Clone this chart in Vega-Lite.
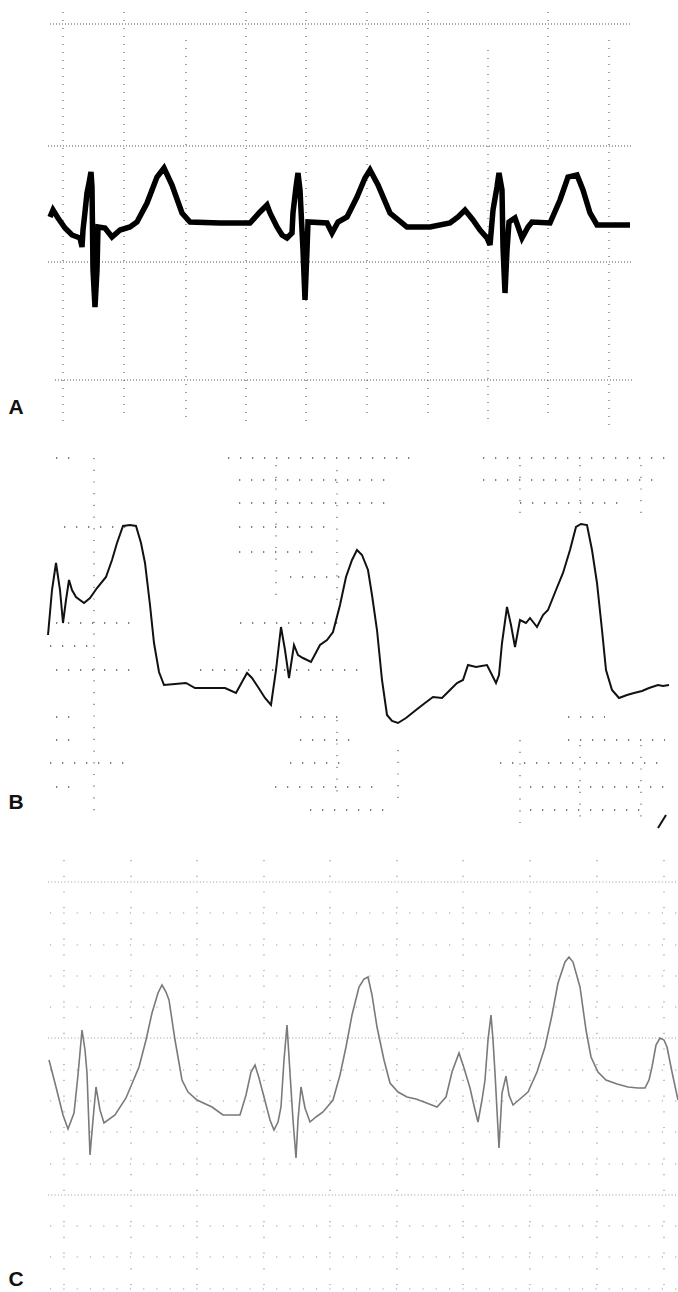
{
  "$schema": "https://vega.github.io/schema/vega-lite/v6.json",
  "padding": 0,
  "spacing": 0,
  "background": "white",
  "config": {"view": {"stroke": null}},
  "datasets": {
    "traceA": [
      {"t":50,"y":217},{"t":53,"y":210},{"t":58,"y":218},{"t":65,"y":228},{"t":72,"y":235},{"t":80,"y":238},{"t":82,"y":247},{"t":83,"y":230},{"t":85,"y":212},{"t":87,"y":193},{"t":89,"y":183},{"t":91,"y":172},{"t":92,"y":187},{"t":93,"y":270},{"t":95,"y":307},{"t":97,"y":270},{"t":98,"y":227},{"t":105,"y":228},{"t":112,"y":237},{"t":120,"y":230},{"t":130,"y":227},{"t":137,"y":222},{"t":147,"y":203},{"t":157,"y":177},{"t":164,"y":168},{"t":172,"y":185},{"t":182,"y":213},{"t":190,"y":222},{"t":220,"y":223},{"t":250,"y":223},{"t":260,"y":212},{"t":267,"y":205},{"t":270,"y":213},{"t":277,"y":227},{"t":282,"y":235},{"t":287,"y":238},{"t":292,"y":233},{"t":293,"y":213},{"t":296,"y":187},{"t":298,"y":173},{"t":300,"y":190},{"t":303,"y":250},{"t":305,"y":300},{"t":307,"y":250},{"t":308,"y":222},{"t":327,"y":223},{"t":332,"y":233},{"t":338,"y":222},{"t":347,"y":217},{"t":357,"y":197},{"t":365,"y":178},{"t":370,"y":170},{"t":378,"y":185},{"t":390,"y":213},{"t":407,"y":227},{"t":430,"y":227},{"t":450,"y":223},{"t":458,"y":217},{"t":465,"y":210},{"t":473,"y":220},{"t":480,"y":230},{"t":487,"y":238},{"t":490,"y":245},{"t":493,"y":210},{"t":497,"y":187},{"t":499,"y":173},{"t":502,"y":190},{"t":503,"y":247},{"t":505,"y":293},{"t":507,"y":250},{"t":509,"y":222},{"t":515,"y":218},{"t":522,"y":238},{"t":528,"y":227},{"t":532,"y":222},{"t":550,"y":223},{"t":560,"y":200},{"t":568,"y":177},{"t":577,"y":175},{"t":583,"y":190},{"t":590,"y":213},{"t":597,"y":225},{"t":630,"y":225}
    ],
    "traceB": [
      {"t":48,"y":635},{"t":52,"y":590},{"t":56,"y":563},{"t":60,"y":590},{"t":63,"y":623},{"t":66,"y":600},{"t":69,"y":580},{"t":72,"y":590},{"t":76,"y":597},{"t":84,"y":603},{"t":90,"y":598},{"t":97,"y":588},{"t":106,"y":577},{"t":112,"y":560},{"t":117,"y":543},{"t":123,"y":526},{"t":130,"y":525},{"t":136,"y":526},{"t":141,"y":543},{"t":145,"y":563},{"t":150,"y":605},{"t":154,"y":643},{"t":159,"y":672},{"t":164,"y":685},{"t":175,"y":684},{"t":186,"y":683},{"t":195,"y":688},{"t":210,"y":688},{"t":225,"y":688},{"t":236,"y":693},{"t":242,"y":682},{"t":247,"y":673},{"t":252,"y":678},{"t":258,"y":687},{"t":265,"y":698},{"t":271,"y":705},{"t":276,"y":670},{"t":281,"y":627},{"t":285,"y":650},{"t":289,"y":678},{"t":294,"y":645},{"t":298,"y":655},{"t":303,"y":658},{"t":311,"y":662},{"t":320,"y":645},{"t":327,"y":640},{"t":333,"y":632},{"t":340,"y":605},{"t":346,"y":577},{"t":352,"y":560},{"t":357,"y":550},{"t":362,"y":555},{"t":368,"y":570},{"t":372,"y":595},{"t":377,"y":630},{"t":382,"y":680},{"t":387,"y":715},{"t":392,"y":721},{"t":398,"y":723},{"t":406,"y":718},{"t":416,"y":710},{"t":425,"y":703},{"t":433,"y":697},{"t":442,"y":698},{"t":450,"y":690},{"t":457,"y":683},{"t":463,"y":680},{"t":468,"y":665},{"t":476,"y":667},{"t":487,"y":665},{"t":492,"y":675},{"t":496,"y":683},{"t":499,"y":675},{"t":502,"y":643},{"t":507,"y":607},{"t":511,"y":625},{"t":515,"y":647},{"t":520,"y":620},{"t":526,"y":623},{"t":530,"y":618},{"t":537,"y":627},{"t":543,"y":615},{"t":548,"y":610},{"t":556,"y":590},{"t":563,"y":573},{"t":570,"y":550},{"t":576,"y":527},{"t":581,"y":524},{"t":587,"y":525},{"t":592,"y":550},{"t":597,"y":583},{"t":602,"y":630},{"t":606,"y":670},{"t":612,"y":690},{"t":619,"y":698},{"t":627,"y":695},{"t":634,"y":693},{"t":642,"y":691},{"t":649,"y":688},{"t":658,"y":685},{"t":663,"y":686},{"t":669,"y":685}
    ],
    "traceC": [
      {"t":49,"y":1060},{"t":56,"y":1087},{"t":63,"y":1115},{"t":68,"y":1129},{"t":74,"y":1113},{"t":78,"y":1075},{"t":82,"y":1030},{"t":85,"y":1050},{"t":87,"y":1073},{"t":90,"y":1155},{"t":93,"y":1120},{"t":96,"y":1087},{"t":100,"y":1110},{"t":104,"y":1123},{"t":115,"y":1115},{"t":126,"y":1098},{"t":139,"y":1067},{"t":146,"y":1040},{"t":152,"y":1013},{"t":158,"y":993},{"t":162,"y":985},{"t":166,"y":992},{"t":169,"y":1000},{"t":175,"y":1040},{"t":182,"y":1080},{"t":188,"y":1092},{"t":197,"y":1100},{"t":212,"y":1107},{"t":223,"y":1115},{"t":240,"y":1115},{"t":246,"y":1095},{"t":251,"y":1072},{"t":255,"y":1065},{"t":259,"y":1078},{"t":264,"y":1097},{"t":270,"y":1120},{"t":274,"y":1130},{"t":278,"y":1122},{"t":281,"y":1107},{"t":284,"y":1060},{"t":287,"y":1025},{"t":290,"y":1073},{"t":293,"y":1120},{"t":296,"y":1158},{"t":298,"y":1120},{"t":301,"y":1087},{"t":305,"y":1108},{"t":310,"y":1122},{"t":316,"y":1117},{"t":323,"y":1112},{"t":333,"y":1100},{"t":340,"y":1075},{"t":346,"y":1047},{"t":352,"y":1015},{"t":359,"y":987},{"t":364,"y":979},{"t":368,"y":977},{"t":372,"y":995},{"t":377,"y":1027},{"t":384,"y":1060},{"t":390,"y":1083},{"t":398,"y":1092},{"t":407,"y":1097},{"t":416,"y":1099},{"t":424,"y":1102},{"t":437,"y":1107},{"t":446,"y":1097},{"t":452,"y":1072},{"t":459,"y":1053},{"t":464,"y":1068},{"t":470,"y":1088},{"t":475,"y":1110},{"t":478,"y":1122},{"t":482,"y":1100},{"t":485,"y":1080},{"t":488,"y":1040},{"t":491,"y":1015},{"t":493,"y":1040},{"t":495,"y":1073},{"t":499,"y":1148},{"t":502,"y":1093},{"t":506,"y":1076},{"t":509,"y":1095},{"t":513,"y":1105},{"t":520,"y":1099},{"t":528,"y":1092},{"t":537,"y":1072},{"t":545,"y":1047},{"t":552,"y":1015},{"t":558,"y":983},{"t":565,"y":962},{"t":569,"y":957},{"t":573,"y":962},{"t":580,"y":987},{"t":586,"y":1030},{"t":591,"y":1057},{"t":598,"y":1072},{"t":606,"y":1080},{"t":617,"y":1084},{"t":628,"y":1087},{"t":638,"y":1088},{"t":645,"y":1088},{"t":649,"y":1080},{"t":652,"y":1067},{"t":656,"y":1045},{"t":660,"y":1038},{"t":664,"y":1040},{"t":667,"y":1047},{"t":672,"y":1072},{"t":678,"y":1100}
    ],
    "hA": [
      {"x1":50,"x2":632,"y":24},{"x1":48,"x2":632,"y":146},{"x1":48,"x2":632,"y":262},{"x1":55,"x2":632,"y":380}
    ],
    "vA": [
      {"x":63,"y1":12,"y2":425},{"x":124,"y1":12,"y2":420},{"x":186,"y1":40,"y2":420},{"x":246,"y1":12,"y2":425},{"x":306,"y1":12,"y2":425},{"x":367,"y1":12,"y2":420},{"x":428,"y1":12,"y2":420},{"x":488,"y1":50,"y2":425},{"x":548,"y1":12,"y2":420},{"x":609,"y1":40,"y2":425}
    ],
    "hB": [
      {"x1":56,"x2":76,"y":458},{"x1":228,"x2":410,"y":458},{"x1":483,"x2":665,"y":458},
      {"x1":239,"x2":388,"y":480},{"x1":483,"x2":655,"y":480},
      {"x1":239,"x2":388,"y":503},{"x1":520,"x2":620,"y":503},
      {"x1":64,"x2":130,"y":527},{"x1":239,"x2":335,"y":527},
      {"x1":239,"x2":315,"y":552},
      {"x1":290,"x2":340,"y":577},
      {"x1":56,"x2":130,"y":623},{"x1":240,"x2":340,"y":623},
      {"x1":50,"x2":90,"y":646},
      {"x1":56,"x2":130,"y":670},{"x1":200,"x2":360,"y":670},
      {"x1":56,"x2":70,"y":717},{"x1":300,"x2":340,"y":717},{"x1":568,"x2":605,"y":717},
      {"x1":56,"x2":70,"y":740},{"x1":300,"x2":360,"y":740},{"x1":568,"x2":665,"y":740},
      {"x1":50,"x2":125,"y":763},{"x1":290,"x2":350,"y":763},{"x1":500,"x2":665,"y":763},
      {"x1":56,"x2":70,"y":787},{"x1":275,"x2":375,"y":787},{"x1":530,"x2":665,"y":787},
      {"x1":310,"x2":385,"y":810},{"x1":530,"x2":640,"y":810}
    ],
    "vB": [
      {"x":94,"y1":458,"y2":815},{"x":276,"y1":465,"y2":600},{"x":337,"y1":470,"y2":600},{"x":337,"y1":720,"y2":800},{"x":398,"y1":750,"y2":800},{"x":520,"y1":465,"y2":520},{"x":520,"y1":740,"y2":830},{"x":580,"y1":465,"y2":520},{"x":580,"y1":745,"y2":820},{"x":641,"y1":465,"y2":520},{"x":641,"y1":745,"y2":820}
    ],
    "slashB": [
      {"x":658,"y":828,"x2":666,"y2":815}
    ],
    "hCmaj": [
      {"y":882},{"y":1038},{"y":1195}
    ],
    "hCmin": [
      {"y":913},{"y":945},{"y":976},{"y":1007},{"y":1070},{"y":1101},{"y":1132},{"y":1164},{"y":1226},{"y":1257},{"y":1289}
    ],
    "vC": [
      {"x":64},{"x":131},{"x":197},{"x":264},{"x":330},{"x":397},{"x":463},{"x":530},{"x":597},{"x":664}
    ],
    "labels": [
      {"panel":"A","t":16,"y":408},{"panel":"B","t":16,"y":803},{"panel":"C","t":16,"y":1280}
    ]
  },
  "vconcat": [
    {
      "width": 678,
      "height": 430,
      "layer": [
        {
          "data": {"name": "hA"},
          "mark": {"type": "rule", "color": "#555", "strokeWidth": 1.2, "strokeDash": [1, 2]},
          "encoding": {
            "x": {"field": "x1", "type": "quantitative", "scale": {"domain": [0, 678], "nice": false, "zero": false}, "axis": null},
            "x2": {"field": "x2"},
            "y": {"field": "y", "type": "quantitative", "scale": {"domain": [0, 430], "reverse": true, "nice": false, "zero": false}, "axis": null}
          }
        },
        {
          "data": {"name": "vA"},
          "mark": {"type": "rule", "color": "#666", "strokeWidth": 1.2, "strokeDash": [1, 7]},
          "encoding": {
            "x": {"field": "x", "type": "quantitative", "axis": null},
            "y": {"field": "y1", "type": "quantitative", "axis": null},
            "y2": {"field": "y2"}
          }
        },
        {
          "data": {"name": "traceA"},
          "mark": {"type": "line", "color": "#000", "strokeWidth": 5.5, "strokeJoin": "miter", "interpolate": "linear"},
          "encoding": {
            "x": {"field": "t", "type": "quantitative", "axis": null},
            "y": {"field": "y", "type": "quantitative", "axis": null}
          }
        },
        {
          "data": {"name": "labels"},
          "transform": [{"filter": "datum.panel == 'A'"}],
          "mark": {"type": "text", "font": "Liberation Sans", "fontWeight": "bold", "fontSize": 21, "align": "center", "baseline": "middle", "color": "#111"},
          "encoding": {
            "x": {"field": "t", "type": "quantitative", "axis": null},
            "y": {"field": "y", "type": "quantitative", "axis": null},
            "text": {"field": "panel"}
          }
        }
      ]
    },
    {
      "width": 678,
      "height": 410,
      "layer": [
        {
          "data": {"name": "hB"},
          "mark": {"type": "rule", "color": "#555", "strokeWidth": 1.3, "strokeDash": [1.3, 10.7]},
          "encoding": {
            "x": {"field": "x1", "type": "quantitative", "scale": {"domain": [0, 678], "nice": false, "zero": false}, "axis": null},
            "x2": {"field": "x2"},
            "y": {"field": "y", "type": "quantitative", "scale": {"domain": [430, 840], "reverse": true, "nice": false, "zero": false}, "axis": null}
          }
        },
        {
          "data": {"name": "vB"},
          "mark": {"type": "rule", "color": "#666", "strokeWidth": 1.2, "strokeDash": [1.2, 10.5]},
          "encoding": {
            "x": {"field": "x", "type": "quantitative", "axis": null},
            "y": {"field": "y1", "type": "quantitative", "axis": null},
            "y2": {"field": "y2"}
          }
        },
        {
          "data": {"name": "slashB"},
          "mark": {"type": "rule", "color": "#111", "strokeWidth": 2},
          "encoding": {
            "x": {"field": "x", "type": "quantitative", "axis": null},
            "y": {"field": "y", "type": "quantitative", "axis": null},
            "x2": {"field": "x2"},
            "y2": {"field": "y2"}
          }
        },
        {
          "data": {"name": "traceB"},
          "mark": {"type": "line", "color": "#111", "strokeWidth": 2},
          "encoding": {
            "x": {"field": "t", "type": "quantitative", "axis": null},
            "y": {"field": "y", "type": "quantitative", "axis": null}
          }
        },
        {
          "data": {"name": "labels"},
          "transform": [{"filter": "datum.panel == 'B'"}],
          "mark": {"type": "text", "font": "Liberation Sans", "fontWeight": "bold", "fontSize": 21, "align": "center", "baseline": "middle", "color": "#111"},
          "encoding": {
            "x": {"field": "t", "type": "quantitative", "axis": null},
            "y": {"field": "y", "type": "quantitative", "axis": null},
            "text": {"field": "panel"}
          }
        }
      ]
    },
    {
      "width": 678,
      "height": 452,
      "layer": [
        {
          "data": {"name": "hCmaj"},
          "mark": {"type": "rule", "color": "#999", "strokeWidth": 1.2, "strokeDash": [1, 2.3]},
          "encoding": {
            "y": {"field": "y", "type": "quantitative", "scale": {"domain": [840, 1292], "reverse": true, "nice": false, "zero": false}, "axis": null},
            "x": {"datum": 48, "type": "quantitative", "scale": {"domain": [0, 678], "nice": false, "zero": false}, "axis": null},
            "x2": {"datum": 678}
          }
        },
        {
          "data": {"name": "hCmin"},
          "mark": {"type": "rule", "color": "#999", "strokeWidth": 1.2, "strokeDash": [1.2, 12.1]},
          "encoding": {
            "y": {"field": "y", "type": "quantitative", "axis": null},
            "x": {"datum": 50, "type": "quantitative", "axis": null},
            "x2": {"datum": 678}
          }
        },
        {
          "data": {"name": "vC"},
          "mark": {"type": "rule", "color": "#999", "strokeWidth": 1.2, "strokeDash": [1.2, 14.5]},
          "encoding": {
            "x": {"field": "x", "type": "quantitative", "axis": null},
            "y": {"datum": 860, "type": "quantitative", "axis": null},
            "y2": {"datum": 1292}
          }
        },
        {
          "data": {"name": "traceC"},
          "mark": {"type": "line", "color": "#7a7a7a", "strokeWidth": 1.6},
          "encoding": {
            "x": {"field": "t", "type": "quantitative", "axis": null},
            "y": {"field": "y", "type": "quantitative", "axis": null}
          }
        },
        {
          "data": {"name": "labels"},
          "transform": [{"filter": "datum.panel == 'C'"}],
          "mark": {"type": "text", "font": "Liberation Sans", "fontWeight": "bold", "fontSize": 21, "align": "center", "baseline": "middle", "color": "#111"},
          "encoding": {
            "x": {"field": "t", "type": "quantitative", "axis": null},
            "y": {"field": "y", "type": "quantitative", "axis": null},
            "text": {"field": "panel"}
          }
        }
      ]
    }
  ]
}
